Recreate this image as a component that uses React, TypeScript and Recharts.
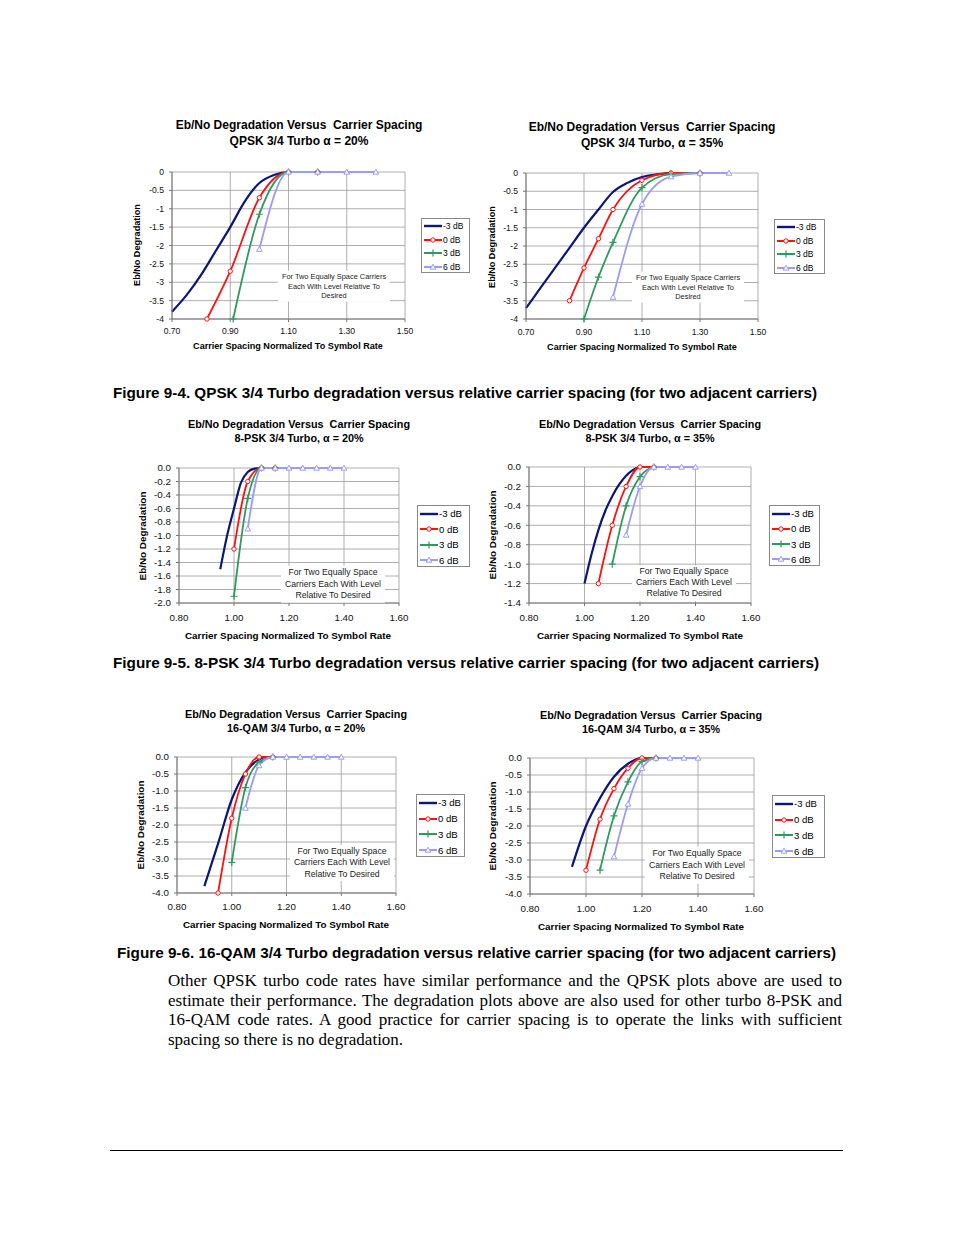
import React from "react"
import { LineChart, Line, XAxis, YAxis, CartesianGrid } from "recharts"

type Pt = [number, number]

const SERIES_NAMES = ["-3 dB", "0 dB", "3 dB", "6 dB"]
const SERIES_COLORS = ["#0b1679", "#ff1010", "#2e9a60", "#9a9cf6"]
const SERIES_MARKERS = ["none", "circle", "plus", "triangle"]

// QPSK 3/4 Turbo, alpha = 20%
const qpsk20Minus3: Pt[] = [[0.7, -3.8], [0.75, -3.35], [0.8, -2.8], [0.85, -2.15], [0.9, -1.5], [0.95, -0.8], [1.0, -0.3], [1.05, -0.08], [1.1, 0], [1.15, 0], [1.2, 0]]
const qpsk20Zero: Pt[] = [[0.82, -4.0], [0.9, -2.7], [1.0, -0.7], [1.1, 0], [1.2, 0]]
const qpsk20Plus3: Pt[] = [[0.91, -4.0], [1.0, -1.15], [1.1, 0], [1.2, 0]]
const qpsk20Plus6: Pt[] = [[1.0, -2.1], [1.1, 0], [1.2, 0], [1.3, 0], [1.4, 0]]

// QPSK 3/4 Turbo, alpha = 35%
const qpsk35Minus3: Pt[] = [[0.7, -3.7], [0.75, -3.15], [0.8, -2.6], [0.85, -2.05], [0.9, -1.5], [0.95, -1.0], [1.0, -0.52], [1.05, -0.27], [1.1, -0.11], [1.15, -0.04], [1.2, 0], [1.25, 0]]
const qpsk35Zero: Pt[] = [[0.85, -3.5], [0.9, -2.6], [0.95, -1.8], [1.0, -1.0], [1.1, -0.2], [1.2, 0], [1.3, 0]]
const qpsk35Plus3: Pt[] = [[0.9, -4.0], [0.95, -2.85], [1.0, -1.9], [1.1, -0.4], [1.2, -0.03], [1.3, 0]]
const qpsk35Plus6: Pt[] = [[1.0, -3.4], [1.1, -0.85], [1.2, -0.1], [1.3, 0], [1.4, 0]]

// 8-PSK 3/4 Turbo, alpha = 20%
const psk20Minus3: Pt[] = [[0.95, -1.5], [0.975, -1.0], [1.0, -0.6], [1.025, -0.22], [1.05, -0.06], [1.075, -0.01], [1.1, 0], [1.15, 0]]
const psk20Zero: Pt[] = [[1.0, -1.2], [1.05, -0.2], [1.1, 0], [1.15, 0]]
const psk20Plus3: Pt[] = [[1.0, -1.9], [1.05, -0.45], [1.1, 0], [1.15, 0]]
const psk20Plus6: Pt[] = [[1.05, -0.9], [1.1, 0], [1.15, 0], [1.2, 0], [1.25, 0], [1.3, 0], [1.35, 0], [1.4, 0]]

// 8-PSK 3/4 Turbo, alpha = 35%
const psk35Minus3: Pt[] = [[1.0, -1.2], [1.025, -0.9], [1.05, -0.65], [1.075, -0.45], [1.1, -0.3], [1.125, -0.18], [1.15, -0.09], [1.175, -0.03], [1.2, 0], [1.25, 0]]
const psk35Zero: Pt[] = [[1.05, -1.2], [1.1, -0.6], [1.15, -0.2], [1.2, 0], [1.25, 0]]
const psk35Plus3: Pt[] = [[1.1, -1.0], [1.15, -0.4], [1.2, -0.1], [1.25, 0]]
const psk35Plus6: Pt[] = [[1.15, -0.7], [1.2, -0.2], [1.25, 0], [1.3, 0], [1.35, 0], [1.4, 0]]

// 16-QAM 3/4 Turbo, alpha = 20%
const qam20Minus3: Pt[] = [[0.9, -3.8], [0.95, -2.55], [1.0, -1.25], [1.05, -0.45], [1.1, -0.07], [1.125, 0], [1.15, 0]]
const qam20Zero: Pt[] = [[0.95, -4.0], [1.0, -1.8], [1.05, -0.5], [1.1, 0], [1.15, 0]]
const qam20Plus3: Pt[] = [[1.0, -3.1], [1.05, -0.9], [1.1, -0.15], [1.15, 0]]
const qam20Plus6: Pt[] = [[1.05, -1.5], [1.1, -0.25], [1.15, 0], [1.2, 0], [1.25, 0], [1.3, 0], [1.35, 0], [1.4, 0]]

// 16-QAM 3/4 Turbo, alpha = 35%
const qam35Minus3: Pt[] = [[0.95, -3.2], [1.0, -2.0], [1.05, -1.18], [1.1, -0.55], [1.15, -0.17], [1.2, 0], [1.25, 0]]
const qam35Zero: Pt[] = [[1.0, -3.3], [1.05, -1.8], [1.1, -0.9], [1.15, -0.3], [1.2, 0], [1.25, 0]]
const qam35Plus3: Pt[] = [[1.05, -3.3], [1.1, -1.7], [1.15, -0.7], [1.2, -0.1], [1.25, 0]]
const qam35Plus6: Pt[] = [[1.1, -2.9], [1.15, -1.35], [1.2, -0.3], [1.25, 0], [1.3, 0], [1.35, 0], [1.4, 0]]

const qpskXTicks = [0.7, 0.9, 1.1, 1.3, 1.5]
const qpskYTicks = [0, -0.5, -1, -1.5, -2, -2.5, -3, -3.5, -4]
const wideXTicks = [0.8, 1.0, 1.2, 1.4, 1.6]
const psk20YTicks = [0, -0.2, -0.4, -0.6, -0.8, -1.0, -1.2, -1.4, -1.6, -1.8, -2.0]
const psk35YTicks = [0, -0.2, -0.4, -0.6, -0.8, -1.0, -1.2, -1.4]
const qamYTicks = [0, -0.5, -1.0, -1.5, -2.0, -2.5, -3.0, -3.5, -4.0]

const CHART_TITLE = "Eb/No Degradation Versus  Carrier Spacing"
const X_TITLE = "Carrier Spacing Normalized To Symbol Rate"
const Y_TITLE = "Eb/No Degradation"
const NOTE_WIDE = ["For Two Equally Space Carriers", "Each With Level Relative To", "Desired"]
const NOTE_NARROW = ["For Two Equally Space", "Carriers Each With Level", "Relative To Desired"]

const CAPTIONS = [
  "Figure 9-4. QPSK 3/4 Turbo degradation versus relative carrier spacing (for two adjacent carriers)",
  "Figure 9-5. 8-PSK 3/4 Turbo degradation versus relative carrier spacing (for two adjacent carriers)",
  "Figure 9-6. 16-QAM 3/4 Turbo degradation versus relative carrier spacing (for two adjacent carriers)",
]
const PARAGRAPH =
  "Other QPSK turbo code rates have similar performance and the QPSK plots above are used to estimate their performance. The degradation plots above are also used for other turbo 8-PSK and 16-QAM code rates. A good practice for carrier spacing is to operate the links with sufficient spacing so there is no degradation."

const toRows = (pts: Pt[]) => pts.map(([x, y]) => ({ x, y }))

// Excel-style minor ticks: five per major interval
const minorTicks = (major: number[]) => {
  const out: number[] = []
  for (let i = 0; i < major.length - 1; i++) {
    const step = (major[i + 1] - major[i]) / 5
    for (let k = 1; k < 5; k++) out.push(Math.round((major[i] + k * step) * 1000) / 1000)
  }
  return out
}

const charts = [
  {
    subtitle: "QPSK 3/4 Turbo \u03b1 = 20%", titleX: 299, titleY: [125, 141], titleSize: 12,
    plot: [172, 172, 405, 319], xDomain: [0.7, 1.5], xTicks: qpskXTicks, yDomain: [-4, 0], yTicks: qpskYTicks,
    yFmt: (v: number) => String(v), tickSize: 8.6, xTickGap: 6,
    xTitle: [288, 347], axisTitleSize: 9.1, yTitle: [138, 245],
    legend: [421, 218, 49, 55], legendSize: 8.5,
    note: NOTE_WIDE, noteAt: [334, 286], noteSize: 7.4, noteLine: 9.6,
    series: [qpsk20Minus3, qpsk20Zero, qpsk20Plus3, qpsk20Plus6],
  },
  {
    subtitle: "QPSK 3/4 Turbo, \u03b1 = 35%", titleX: 652, titleY: [127, 143], titleSize: 12,
    plot: [526, 173, 758, 319], xDomain: [0.7, 1.5], xTicks: qpskXTicks, yDomain: [-4, 0], yTicks: qpskYTicks,
    yFmt: (v: number) => String(v), tickSize: 8.6, xTickGap: 7,
    xTitle: [642, 348], axisTitleSize: 9.1, yTitle: [493, 247],
    legend: [774, 219, 51, 55], legendSize: 8.5,
    note: NOTE_WIDE, noteAt: [688, 287], noteSize: 7.4, noteLine: 9.6,
    series: [qpsk35Minus3, qpsk35Zero, qpsk35Plus3, qpsk35Plus6],
  },
  {
    subtitle: "8-PSK 3/4 Turbo, \u03b1 = 20%", titleX: 299, titleY: [424, 438], titleSize: 10.8,
    plot: [179, 468, 399, 603], xDomain: [0.8, 1.6], xTicks: wideXTicks, yDomain: [-2, 0], yTicks: psk20YTicks,
    yFmt: (v: number) => v.toFixed(1), tickSize: 9.8, xTickGap: 8.5,
    xTitle: [288, 636], axisTitleSize: 9.9, yTitle: [143, 536],
    legend: [417, 505, 53, 62], legendSize: 9.6,
    note: NOTE_NARROW, noteAt: [333, 584], noteSize: 8.7, noteLine: 11.5,
    series: [psk20Minus3, psk20Zero, psk20Plus3, psk20Plus6],
  },
  {
    subtitle: "8-PSK 3/4 Turbo, \u03b1 = 35%", titleX: 650, titleY: [424, 438], titleSize: 10.8,
    plot: [529, 467, 751, 603], xDomain: [0.8, 1.6], xTicks: wideXTicks, yDomain: [-1.4, 0], yTicks: psk35YTicks,
    yFmt: (v: number) => v.toFixed(1), tickSize: 9.8, xTickGap: 8.5,
    xTitle: [640, 636], axisTitleSize: 9.9, yTitle: [493, 535],
    legend: [769, 505, 51, 61], legendSize: 9.6,
    note: NOTE_NARROW, noteAt: [684, 583], noteSize: 8.7, noteLine: 11.2,
    series: [psk35Minus3, psk35Zero, psk35Plus3, psk35Plus6],
  },
  {
    subtitle: "16-QAM 3/4 Turbo, \u03b1 = 20%", titleX: 296, titleY: [714, 728], titleSize: 10.8,
    plot: [177, 757, 396, 893], xDomain: [0.8, 1.6], xTicks: wideXTicks, yDomain: [-4, 0], yTicks: qamYTicks,
    yFmt: (v: number) => v.toFixed(1), tickSize: 9.8, xTickGap: 7.5,
    xTitle: [286, 925], axisTitleSize: 9.9, yTitle: [141, 825],
    legend: [416, 794, 49, 63], legendSize: 9.6,
    note: NOTE_NARROW, noteAt: [342, 863], noteSize: 8.7, noteLine: 11.3,
    series: [qam20Minus3, qam20Zero, qam20Plus3, qam20Plus6],
  },
  {
    subtitle: "16-QAM 3/4 Turbo, \u03b1 = 35%", titleX: 651, titleY: [715, 729], titleSize: 10.8,
    plot: [530, 758, 754, 894], xDomain: [0.8, 1.6], xTicks: wideXTicks, yDomain: [-4, 0], yTicks: qamYTicks,
    yFmt: (v: number) => v.toFixed(1), tickSize: 9.8, xTickGap: 8.5,
    xTitle: [641, 927], axisTitleSize: 9.9, yTitle: [493, 826],
    legend: [772, 795, 53, 63], legendSize: 9.6,
    note: NOTE_NARROW, noteAt: [697, 865], noteSize: 8.7, noteLine: 11.5,
    series: [qam35Minus3, qam35Zero, qam35Plus3, qam35Plus6],
  },
]

const FONT = '"Liberation Sans", Arial, sans-serif'

function Marker({ kind, cx, cy, color }: { kind: string; cx: number; cy: number; color: string }) {
  if (cx == null || cy == null) return null
  if (kind === "circle") return <circle cx={cx} cy={cy} r={2.2} fill="#fff" stroke={color} strokeWidth={1} />
  if (kind === "plus")
    return <path d={`M${cx - 3.5},${cy}H${cx + 3.5}M${cx},${cy - 3.5}V${cy + 3.5}`} stroke={color} strokeWidth={1.2} fill="none" />
  if (kind === "triangle")
    return <path d={`M${cx},${cy - 2.8}L${cx + 2.8},${cy + 2.2}L${cx - 2.8},${cy + 2.2}Z`} fill="#fff" stroke={color} strokeWidth={1} />
  return null
}

function Label({ x, y, size, bold, children, rotate }: any) {
  return (
    <div
      style={{
        position: "absolute", left: x, top: y, whiteSpace: "pre", fontSize: size, fontWeight: bold ? "bold" : "normal",
        lineHeight: 1, transform: `translate(-50%, -50%)${rotate ? " rotate(-90deg)" : ""}`,
      }}
    >
      {children}
    </div>
  )
}

function DegradationChart({ c }: { c: any }) {
  const [pl, pt, pr, pb] = c.plot
  const yAxisW = 39
  const xAxisH = 26
  const mTop = 6
  const mRight = 18
  const width = pr - pl + yAxisW + 1 + mRight
  const height = pb - pt + mTop + xAxisH
  const tickStyle = { fontSize: c.tickSize, fill: "#111", fontFamily: FONT }
  const [lx, ly, lw, lh] = c.legend

  return (
    <>
      <Label x={c.titleX} y={c.titleY[0]} size={c.titleSize} bold>{CHART_TITLE}</Label>
      <Label x={c.titleX} y={c.titleY[1]} size={c.titleSize} bold>{c.subtitle}</Label>

      <div style={{ position: "absolute", left: pl - yAxisW - 1, top: pt - mTop }}>
        <LineChart width={width} height={height} margin={{ top: mTop, right: mRight, left: 0, bottom: 0 }}>
          <CartesianGrid stroke="#9a9a9a" strokeWidth={0.8} />
          <YAxis
            yAxisId="minor" type="number" domain={c.yDomain} ticks={minorTicks(c.yTicks)} width={1} tick={false}
            axisLine={false} tickSize={3} tickLine={{ stroke: "#777" }} interval={0}
          />
          <YAxis
            type="number" domain={c.yDomain} ticks={c.yTicks} width={yAxisW} tickFormatter={c.yFmt}
            tick={tickStyle} tickSize={3} tickMargin={5} axisLine={{ stroke: "#777" }} tickLine={{ stroke: "#777" }} interval={0}
          />
          <XAxis
            type="number" dataKey="x" domain={c.xDomain} ticks={c.xTicks} height={xAxisH}
            tickFormatter={(v: number) => v.toFixed(2)} tick={tickStyle} tickSize={3} tickMargin={c.xTickGap}
            axisLine={{ stroke: "#777" }} tickLine={{ stroke: "#777" }} interval={0}
          />
          <XAxis
            xAxisId="minor" type="number" dataKey="x" domain={c.xDomain} ticks={minorTicks(c.xTicks)} height={1} mirror
            tick={false} axisLine={false} tickSize={3} tickLine={{ stroke: "#777" }} interval={0}
          />
          {c.series.map((pts: Pt[], i: number) => (
            <Line
              key={SERIES_NAMES[i]} name={SERIES_NAMES[i]} data={toRows(pts)} dataKey="y" type="monotone"
              stroke={SERIES_COLORS[i]} strokeWidth={i === 0 ? 2.2 : 1.8} isAnimationActive={false}
              dot={
                SERIES_MARKERS[i] === "none"
                  ? false
                  : (p: any) => <Marker key={`m${i}-${p.index}`} kind={SERIES_MARKERS[i]} cx={p.cx} cy={p.cy} color={SERIES_COLORS[i]} />
              }
            />
          ))}
        </LineChart>
      </div>

      <div
        style={{
          position: "absolute", left: c.noteAt[0], top: c.noteAt[1], transform: "translate(-50%, -50%)", background: "#fff",
          padding: "1px 4px", textAlign: "center", fontSize: c.noteSize, lineHeight: `${c.noteLine}px`, whiteSpace: "nowrap", color: "#222",
        }}
      >
        {c.note.map((t: string) => <div key={t}>{t}</div>)}
      </div>

      <Label x={c.xTitle[0]} y={c.xTitle[1]} size={c.axisTitleSize} bold>{X_TITLE}</Label>
      <Label x={c.yTitle[0]} y={c.yTitle[1]} size={c.axisTitleSize} bold rotate>{Y_TITLE}</Label>

      <div style={{ position: "absolute", left: lx, top: ly, width: lw, height: lh, border: "1px solid #8a8a8a", boxSizing: "border-box", background: "#fff" }}>
        {SERIES_NAMES.map((name, i) => (
          <div
            key={name}
            style={{
              position: "absolute", left: 2, top: ((i + 0.5) * lh) / 4 - 6, height: 12, display: "flex", alignItems: "center",
              fontSize: c.legendSize, whiteSpace: "nowrap",
            }}
          >
            <svg width={18} height={10}>
              <line x1={0} y1={5} x2={18} y2={5} stroke={SERIES_COLORS[i]} strokeWidth={i === 0 ? 2.4 : 2} />
              <Marker kind={SERIES_MARKERS[i]} cx={9} cy={5} color={SERIES_COLORS[i]} />
            </svg>
            <span style={{ marginLeft: 1 }}>{name}</span>
          </div>
        ))}
      </div>
    </>
  )
}

export default function App() {
  const captionY = [392, 662, 952]
  const captionX = [[113, 704], [113, 706], [117, 719]]
  return (
    <div style={{ position: "absolute", left: 0, top: 0, width: 954, height: 1235, background: "#fff", fontFamily: FONT, color: "#000", overflow: "hidden" }}>
      {charts.map((c, i) => <DegradationChart key={i} c={c} />)}

      {CAPTIONS.map((t, i) => (
        <svg key={t} width={954} height={24} style={{ position: "absolute", left: 0, top: captionY[i] - 12 }}>
          <text x={captionX[i][0]} y={17.5} textLength={captionX[i][1]} lengthAdjust="spacingAndGlyphs" fontSize={15} fontWeight="bold" fontFamily={FONT}>
            {t}
          </text>
        </svg>
      ))}

      <div
        style={{
          position: "absolute", left: 168, top: 971, width: 674, fontFamily: '"Liberation Serif", "Times New Roman", serif', fontSize: 17,
          lineHeight: "19.6px", textAlign: "justify",
        }}
      >
        {PARAGRAPH}
      </div>

      <div style={{ position: "absolute", left: 110, top: 1150, width: 733, height: 1, background: "#000" }} />
    </div>
  )
}
